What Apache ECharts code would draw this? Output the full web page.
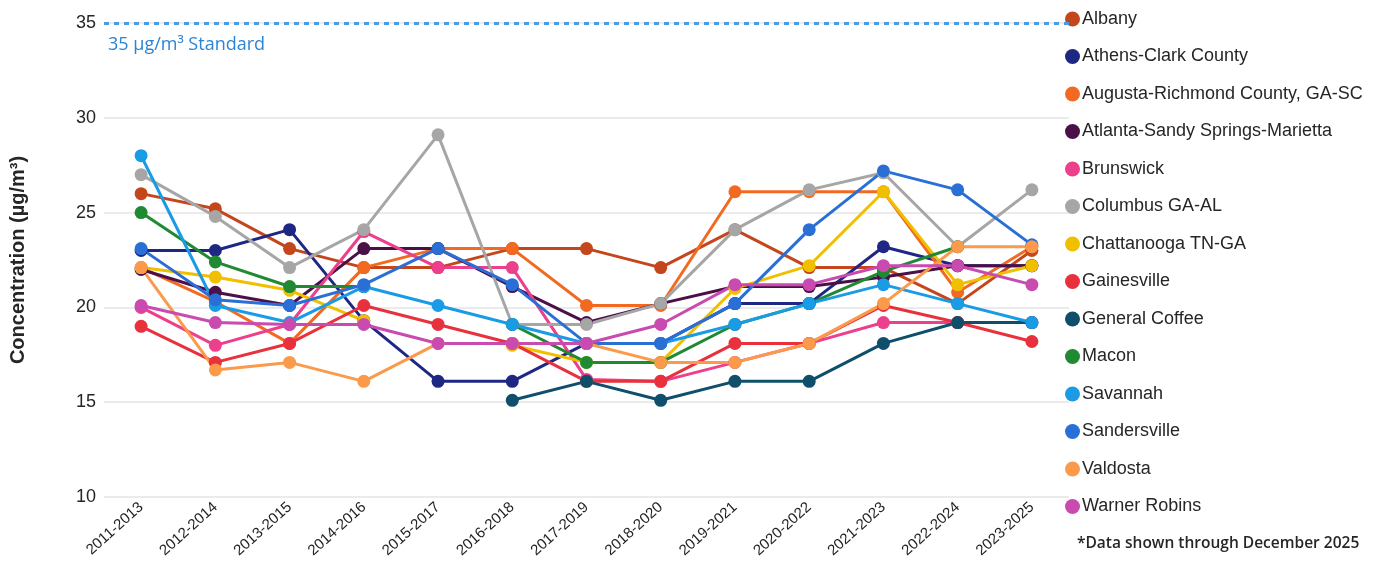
<!DOCTYPE html>
<html>
<head>
<meta charset="utf-8">
<script src="https://cdn.jsdelivr.net/npm/echarts@6/dist/echarts.min.js"></script>
<style>
  html, body { margin: 0; padding: 0; background: #ffffff; }
  #chart { width: 1391px; height: 578px; }
</style>
</head>
<body>
<div id="chart"></div>
<script>
var categories = ['2011-2013', '2012-2014', '2013-2015', '2014-2016', '2015-2017', '2016-2018', '2017-2019',
  '2018-2020', '2019-2021', '2020-2022', '2021-2023', '2022-2024', '2023-2025'];

var albany        = [26.0, 25.2, 23.1, 22.1, 22.1, 23.1, 23.1, 22.1, 24.1, 22.1, 22.1, 20.2, 23.0];
var athens        = [23.0, 23.0, 24.1, 19.3, 16.1, 16.1, 18.1, 18.1, 20.2, 20.2, 23.2, 22.2, 22.2];
var augusta       = [22.1, 20.3, 18.1, 22.1, 23.1, 23.1, 20.1, 20.1, 26.1, 26.1, 26.1, 20.8, 23.2];
var atlanta       = [22.0, 20.8, 20.1, 23.1, 23.1, 21.1, 19.2, 20.2, 21.1, 21.1, 21.6, 22.2, 22.2];
var brunswick     = [20.0, 18.0, 19.1, 24.0, 22.1, 22.1, 16.2, 16.1, 17.1, 18.1, 19.2, 19.2, 19.2];
var columbus      = [27.0, 24.8, 22.1, 24.1, 29.1, 19.1, 19.1, 20.2, 24.1, 26.2, 27.1, 23.2, 26.2];
var chattanooga   = [22.1, 21.6, 20.9, 19.3, null, 18.0, 17.1, 17.1, 21.0, 22.2, 26.1, 21.2, 22.2];
var gainesville   = [19.0, 17.1, 18.1, 20.1, 19.1, 18.1, 16.1, 16.1, 18.1, 18.1, 20.1, 19.2, 18.2];
var generalCoffee = [null, null, null, null, null, 15.1, 16.1, 15.1, 16.1, 16.1, 18.1, 19.2, 19.2];
var macon         = [25.0, 22.4, 21.1, 21.1, null, 19.1, 17.1, 17.1, 19.1, 20.2, 21.9, 23.2, null];
var savannah      = [28.0, 20.1, 19.2, 21.1, 20.1, 19.1, 18.1, 18.1, 19.1, 20.2, 21.2, 20.2, 19.2];
var sandersville  = [23.1, 20.4, 20.1, 21.2, 23.1, 21.2, 18.1, 18.1, 20.2, 24.1, 27.2, 26.2, 23.3];
var valdosta      = [22.1, 16.7, 17.1, 16.1, 18.1, 18.1, 18.1, 17.1, 17.1, 18.1, 20.2, 23.2, 23.2];
var warnerRobins  = [20.1, 19.2, 19.1, 19.1, 18.1, 18.1, 18.1, 19.1, 21.2, 21.2, 22.2, 22.2, 21.2];

var seriesNames = ['Albany', 'Athens-Clark County', 'Augusta-Richmond County, GA-SC', 'Atlanta-Sandy Springs-Marietta',
  'Brunswick', 'Columbus GA-AL', 'Chattanooga TN-GA', 'Gainesville', 'General Coffee', 'Macon',
  'Savannah', 'Sandersville', 'Valdosta', 'Warner Robins'];
var seriesData = [albany, athens, augusta, atlanta, brunswick, columbus, chattanooga, gainesville,
  generalCoffee, macon, savannah, sandersville, valdosta, warnerRobins];
var colors = ['#c4461c', '#1f2784', '#f26a21', '#4b1048', '#ec3f8c', '#a6a6a6', '#f0bf00', '#e8313d',
  '#0f4f6b', '#1f8a32', '#1a9be6', '#2a6fd6', '#fb9a4b', '#c94bb0'];

var standardValue = 35;
var yTicks = { min: 10, max: 35, interval: 5 };

var chart = echarts.init(document.getElementById('chart'), null, { renderer: 'canvas' });

var series = seriesNames.map(function (name, i) {
  return {
    name: name,
    type: 'line',
    data: seriesData[i],
    connectNulls: false,
    symbol: 'circle',
    symbolSize: 13,
    showAllSymbol: true,
    lineStyle: { width: 3, color: colors[i] },
    itemStyle: { color: colors[i] },
    emphasis: { disabled: true }
  };
});

// the 35 µg/m³ standard line
series[0].markLine = {
  silent: true,
  symbol: ['none', 'none'],
  label: { show: false },
  lineStyle: { color: '#4a9be0', width: 3, type: [5, 5] },
  data: [{ yAxis: standardValue }]
};

var option = {
  backgroundColor: '#ffffff',
  animation: false,
  color: colors,
  grid: { left: 103, right: 322, top: 23, bottom: 81, containLabel: false },
  legend: {
    orient: 'vertical',
    left: 1060,
    top: 5,
    itemWidth: 15,
    itemHeight: 15,
    itemGap: 19.5,
    icon: 'circle',
    textStyle: { fontFamily: 'Liberation Sans, Arial', fontSize: 18, color: '#262626', padding: [0, 0, 0, -3] },
    data: seriesNames
  },
  xAxis: {
    type: 'category',
    data: categories,
    boundaryGap: true,
    axisLine: { show: false },
    axisTick: { show: false },
    axisLabel: {
      rotate: 42,
      margin: 8,
      interval: 0,
      fontFamily: 'Liberation Sans, Arial',
      fontSize: 15,
      color: '#1f1f1f'
    }
  },
  yAxis: {
    type: 'value',
    min: yTicks.min,
    max: yTicks.max,
    interval: yTicks.interval,
    name: 'Concentration (µg/m³)',
    nameLocation: 'middle',
    nameGap: 76,
    nameTextStyle: { fontFamily: 'Liberation Sans, Arial', fontSize: 20, fontWeight: 'bold', color: '#262626' },
    axisLine: { show: false },
    axisTick: { show: false },
    axisLabel: { margin: 8, fontFamily: 'Liberation Sans, Arial', fontSize: 18, color: '#262626' },
    splitLine: { lineStyle: { color: '#e4e4e4', width: 1.5 } }
  },
  graphic: [
    {
      type: 'text',
      left: 108,
      top: 36,
      style: { text: '35 µg/m³ Standard', fill: '#2b84d6', font: '18px "Open Sans"' }
    },
    {
      type: 'text',
      left: 1077,
      top: 536,
      style: { text: '*Data shown through December 2025', fill: '#262626', font: '600 15.5px "Open Sans"' }
    }
  ],
  series: series
};

chart.setOption(option);
</script>
</body>
</html>
